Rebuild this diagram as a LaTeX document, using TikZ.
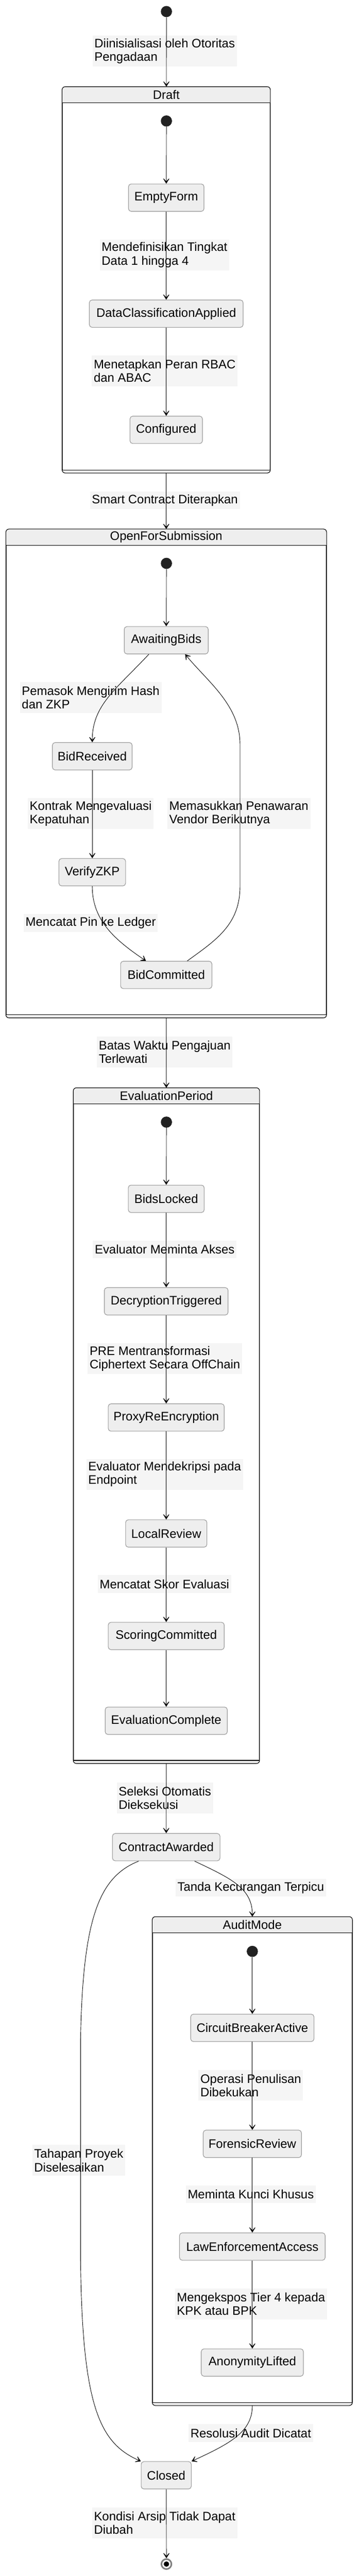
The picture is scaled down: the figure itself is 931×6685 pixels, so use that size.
\documentclass[tikz,border=0pt]{standalone}
\usepackage{fontspec}
\setmainfont{Liberation Sans}
\usetikzlibrary{arrows.meta,calc}
\newdimen\upx \upx=0.5pt
\newcommand\lbl{\fontsize{16pt}{17.5pt}\selectfont}
\definecolor{stfill}{HTML}{EEEEEE}
\definecolor{stborder}{HTML}{9A9A9A}
\definecolor{labbg}{HTML}{F5F5F5}
\definecolor{dotc}{HTML}{222222}
\definecolor{ringc}{HTML}{7F7F7F}
\newcommand\makecompstate[6]{%
  \node[compbox, minimum width=#4\upx, minimum height=#5\upx, anchor=north] (#1) at (#2,#3) {};
  \begin{scope}
    \clip[rounded corners=4pt] (#1.south west) rectangle (#1.north east);
    \fill[stfill] (#1.north west) rectangle ($(#1.north east)+(0,42)$);
    \fill[stfill] ($(#1.south west)+(0,-8)$) rectangle (#1.south east);
  \end{scope}
  \draw[compline] ($(#1.north west)+(0,42)$) -- ($(#1.north east)+(0,42)$);
  \draw[compline] ($(#1.south west)+(0,-8)$) -- ($(#1.south east)+(0,-8)$);
  \draw[compbox, fill=none] (#1.south west) rectangle (#1.north east);
  \node (#1-title) at ($(#1.north)+(0,21)$) {#6};
}
\begin{document}
\begin{tikzpicture}[x=0.5pt, y=-0.5pt,
  every node/.style={font=\lbl, text=black},
  stnode/.style={draw=stborder, fill=stfill, line width=0.75pt, rounded corners=3.5pt, minimum height=35.5pt, inner xsep=4pt, inner ysep=0pt},
  lab/.style={fill=labbg, inner xsep=2.5pt, inner ysep=0pt, align=left},
  labone/.style={lab, minimum height=23pt},
  labtwo/.style={lab, minimum height=40pt},
  startdot/.style={circle, fill=dotc, minimum size=14.5pt, inner sep=0pt},
  finring/.style={circle, draw=ringc, line width=2pt, fill=white, minimum size=13pt, inner sep=0pt},
  compbox/.style={draw=black, line width=0.75pt, rounded corners=4pt, fill=white, inner sep=0pt},
  compline/.style={draw=black, line width=0.75pt},
  arr/.style={draw=black, line width=0.6pt, -{Stealth[length=9pt,width=11pt,inset=6pt]}}
]
\useasboundingbox (0,0) rectangle (931,6685);

% ---------- composite states ----------
\makecompstate{Draft}{431.5}{225}{539}{1001}{Draft}
\makecompstate{OFS}{431.5}{1373}{831}{1267}{OpenForSubmission}
\makecompstate{EP}{432}{2823}{482}{1752}{EvaluationPeriod}
\makecompstate{Audit}{655}{4974}{518}{1267}{AuditMode}

% ---------- initial / final ----------
\node[startdot] (d0) at (432,30) {};
\node[startdot] (dDraft) at (432,314) {};
\node[startdot] (dOFS) at (432,1462) {};
\node[startdot] (dEP) at (432,2912) {};
\node[startdot] (dAudit) at (655,5064) {};
\node[finring] (fin) at (432,6654) {};
\fill[black] (fin.center) circle (3.5pt);

% ---------- simple states ----------
\node[stnode, minimum width=196\upx] (EF) at (431.5,513) {EmptyForm};
\node[stnode, minimum width=399\upx] (DCA) at (431.5,814) {DataClassificationApplied};
\node[stnode, minimum width=188\upx] (CFG) at (431.5,1115.5) {Configured};
\node[stnode, minimum width=218\upx] (AB) at (431.5,1661.5) {AwaitingBids};
\node[stnode, minimum width=207\upx] (BR) at (239.5,1962.5) {BidReceived};
\node[stnode, minimum width=173\upx] (VZ) at (239.5,2263.5) {VerifyZKP};
\node[stnode, minimum width=237\upx] (BC) at (431.5,2530) {BidCommitted};
\node[stnode, minimum width=197\upx] (BL) at (431.5,3111) {BidsLocked};
\node[stnode, minimum width=321\upx] (DT) at (431.5,3377) {DecryptionTriggered};
\node[stnode, minimum width=301\upx] (PRE) at (431.5,3678.5) {ProxyReEncryption};
\node[stnode, minimum width=211\upx] (LR) at (431.5,3979.5) {LocalReview};
\node[stnode, minimum width=301\upx] (SC) at (431.5,4245.5) {ScoringCommitted};
\node[stnode, minimum width=317\upx] (EC) at (431.5,4465.5) {EvaluationComplete};
\node[stnode, minimum width=279\upx] (CA) at (431.5,4793.5) {ContractAwarded};
\node[stnode, minimum width=320\upx] (CBA) at (655,5262.5) {CircuitBreakerActive};
\node[stnode, minimum width=255\upx] (FR) at (655,5563.5) {ForensicReview};
\node[stnode, minimum width=378\upx] (LEA) at (655,5830) {LawEnforcementAccess};
\node[stnode, minimum width=265\upx] (AL) at (655,6131) {AnonymityLifted};
\node[stnode, minimum width=130\upx] (Closed) at (431.5,6423.5) {Closed};

% ---------- labels ----------
\node[labtwo] (l1) at (427.5,132.5) {Diinisialisasi oleh Otoritas\\Pengadaan};
\node[labtwo] (l2) at (427,661.5) {Mendefinisikan Tingkat\\Data 1 hingga 4};
\node[labtwo] (l3) at (427.5,963) {Menetapkan Peran RBAC\\dan ABAC};
\node[labone] (l4) at (428,1298.5) {Smart Contract Diterapkan};
\node[labtwo] (l5) at (235.5,1810) {Pemasok Mengirim Hash\\dan ZKP};
\node[labtwo] (l6) at (235.5,2111) {Kontrak Mengevaluasi\\Kepatuhan};
\node[labtwo] (l7) at (620,2111) {Memasukkan Penawaran\\Vendor Berikutnya};
\node[labone] (l8) at (235.5,2395) {Mencatat Pin ke Ledger};
\node[labtwo] (l9) at (427.5,2730) {Batas Waktu Pengajuan\\Terlewati};
\node[labone] (l10) at (427.5,3242) {Evaluator Meminta Akses};
\node[labtwo] (l11) at (428,3526) {PRE Mentransformasi\\Ciphertext Secara OffChain};
\node[labtwo] (l12) at (427.5,3826) {Evaluator Mendekripsi pada\\Endpoint};
\node[labone] (l13) at (427,4110.5) {Mencatat Skor Evaluasi};
\node[labtwo] (l14) at (428,4666) {Seleksi Otomatis\\Dieksekusi};
\node[labone] (l15) at (651,4899) {Tanda Kecurangan Terpicu};
\node[labtwo] (l16) at (204.5,5606.5) {Tahapan Proyek\\Diselesaikan};
\node[labtwo] (l17) at (651,5411.5) {Operasi Penulisan\\Dibekukan};
\node[labone] (l18) at (651,5694.5) {Meminta Kunci Khusus};
\node[labtwo] (l19) at (651.5,5978.5) {Mengekspos Tier 4 kepada\\KPK atau BPK};
\node[labone] (l20) at (651,6314) {Resolusi Audit Dicatat};
\node[labtwo] (l21) at (427.5,6547.5) {Kondisi Arsip Tidak Dapat\\Diubah};

% ---------- connectors ----------
\draw[arr] (d0) -- (Draft);
\draw[arr] (dDraft) -- (EF);
\draw[arr] (EF) -- (DCA);
\draw[arr] (DCA) -- (CFG);
\draw[arr] (Draft) -- (OFS);
\draw[arr] (dOFS) -- (AB);
\draw[arr] ($(AB.south)+(-45,0)$) .. controls (300,1790) and (239.5,1830) .. (BR.north);
\draw[arr] (BR) -- (VZ);
\draw[arr] (VZ.south) .. controls (239.5,2390) and (300,2440) .. ($(BC.north)+(-52.5,0)$);
\draw[arr] ($(BC.north)+(54.5,0)$) .. controls (560,2440) and (623,2400) .. (623,2300) -- (623,1932) .. controls (623,1830) and (540,1770) .. ($(AB.south)+(49,0)$);
\draw[arr] (OFS) -- (EP);
\draw[arr] (dEP) -- (BL);
\draw[arr] (BL) -- (DT);
\draw[arr] (DT) -- (PRE);
\draw[arr] (PRE) -- (LR);
\draw[arr] (LR) -- (SC);
\draw[arr] (SC) -- (EC);
\draw[arr] (EP) -- (CA);
\draw[arr] ($(CA.south)+(73.5,0)$) .. controls (600,4875) and (655,4900) .. (Audit.north);
\draw[arr] ($(CA.south)+(-71.5,0)$) .. controls (260,4870) and (214,4970) .. (209,5300) -- (209,5850) .. controls (212,6250) and (260,6340) .. (Closed.north west);
\draw[arr] (dAudit) -- (CBA);
\draw[arr] (CBA) -- (FR);
\draw[arr] (FR) -- (LEA);
\draw[arr] (LEA) -- (AL);
\draw[arr] (Audit.south) .. controls (655,6310) and (600,6340) .. (Closed.north east);
\draw[arr] (Closed) -- (fin);
\end{tikzpicture}
\end{document}
